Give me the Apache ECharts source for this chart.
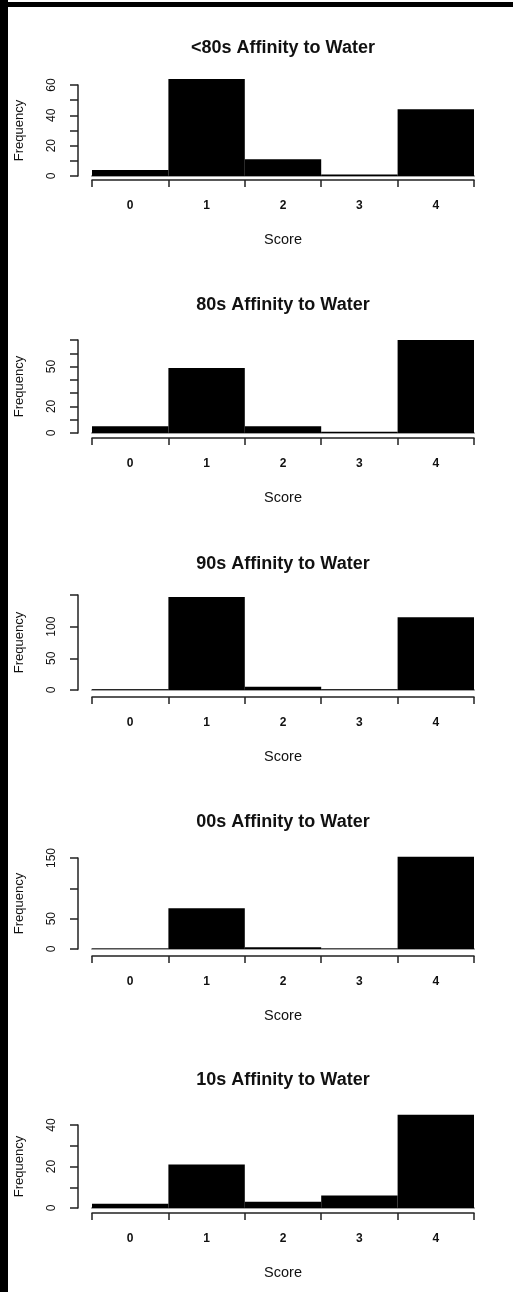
<!DOCTYPE html>
<html>
<head>
<meta charset="utf-8">
<script src="https://cdn.jsdelivr.net/npm/echarts@6/dist/echarts.min.js"></script>
<style>
  html, body { margin: 0; padding: 0; background: #fff; }
  #chart { position: absolute; left: 0; top: 0; width: 513px; height: 1292px; }
  .frame-left { position: absolute; left: 0; top: 0; width: 8px; height: 1292px; background: #000; }
  .frame-top { position: absolute; left: 0; top: 2px; width: 513px; height: 5px; background: #000; }
</style>
</head>
<body>
<div id="chart"></div>
<div class="frame-left"></div>
<div class="frame-top"></div>
<script>
const scores = ['0', '1', '2', '3', '4'];
const decades = ['<80s', '80s', '90s', '00s', '10s'];

// frequency of each score, one array per decade
const freqPre80 = [4, 64, 11, 1, 44];
const freq80s = [5, 49, 5, 1, 70];
const freq90s = [1, 147, 5, 1, 115];
const freq00s = [1, 67, 3, 1, 152];
const freq10s = [2, 21, 3, 6, 45];

// y axis range and which tick values got a label
const yMax = [60, 70, 150, 150, 40];
const yStep = [10, 10, 50, 50, 10];
const yTickLabels = [[0, 20, 40, 60], [0, 20, 50], [0, 50, 100], [0, 50, 150], [0, 20, 40]];

const panels = [freqPre80, freq80s, freq90s, freq00s, freq10s];

// panel layout in px
const gridTop = [85, 340, 595, 858, 1125];
const gridHeight = [91, 93, 95, 91, 83];
const xAxisOffset = [4, 5, 7, 7, 5];
const titleTop = [34, 291, 550, 808, 1066];

const font = 'Liberation Sans, Arial, Helvetica, sans-serif';
const ink = '#111';

const chart = echarts.init(document.getElementById('chart'));

const grid = [], xAxis = [], yAxis = [], series = [], title = [];

panels.forEach((values, i) => {
  title.push({
    text: decades[i] + ' Affinity to Water',
    left: 278,
    top: titleTop[i],
    textAlign: 'center',
    textStyle: { fontFamily: font, fontSize: 18, fontWeight: 'bold', color: ink }
  });

  grid.push({ left: 92, right: 39, top: gridTop[i], height: gridHeight[i], outerBoundsMode: 'none' });

  // grey baseline under the bars
  xAxis.push({
    gridIndex: i,
    type: 'category',
    data: scores,
    position: 'bottom',
    axisLine: { lineStyle: { color: '#a0a0a0', width: 2 } },
    axisTick: { show: false },
    axisLabel: { show: false }
  });

  // R style axis, drawn a little below the bars
  xAxis.push({
    gridIndex: i,
    type: 'category',
    data: scores,
    position: 'bottom',
    offset: xAxisOffset[i],
    axisLine: { show: true, lineStyle: { color: '#222', width: 1.5 } },
    axisTick: { show: true, interval: 0, length: 7, lineStyle: { color: '#222', width: 1.5 } },
    axisLabel: { margin: 20, fontFamily: font, fontSize: 12, fontWeight: 'bold', color: ink },
    name: 'Score',
    nameLocation: 'middle',
    nameGap: 52,
    nameTextStyle: { fontFamily: font, fontSize: 14.5, color: ink }
  });

  const labels = yTickLabels[i];
  yAxis.push({
    gridIndex: i,
    type: 'value',
    position: 'left',
    offset: 14,
    min: 0,
    max: yMax[i],
    interval: yStep[i],
    splitLine: { show: false },
    axisLine: { show: true, lineStyle: { color: '#222', width: 1.5 } },
    axisTick: { show: true, length: 8, lineStyle: { color: '#222', width: 1.5 } },
    axisLabel: {
      rotate: 90,
      margin: 20,
      fontFamily: font,
      fontSize: 12,
      color: ink,
      formatter: v => (labels.includes(v) ? String(v) : '')
    },
    name: 'Frequency',
    nameLocation: 'middle',
    nameGap: 52,
    nameTextStyle: { fontFamily: font, fontSize: 13, color: ink }
  });

  series.push({
    type: 'bar',
    xAxisIndex: i * 2,
    yAxisIndex: i,
    data: values,
    barCategoryGap: '0%',
    clip: false,
    silent: true,
    itemStyle: { color: '#000' }
  });
});

chart.setOption({
  animation: false,
  backgroundColor: '#fff',
  title,
  grid,
  xAxis,
  yAxis,
  series
});
</script>
</body>
</html>
